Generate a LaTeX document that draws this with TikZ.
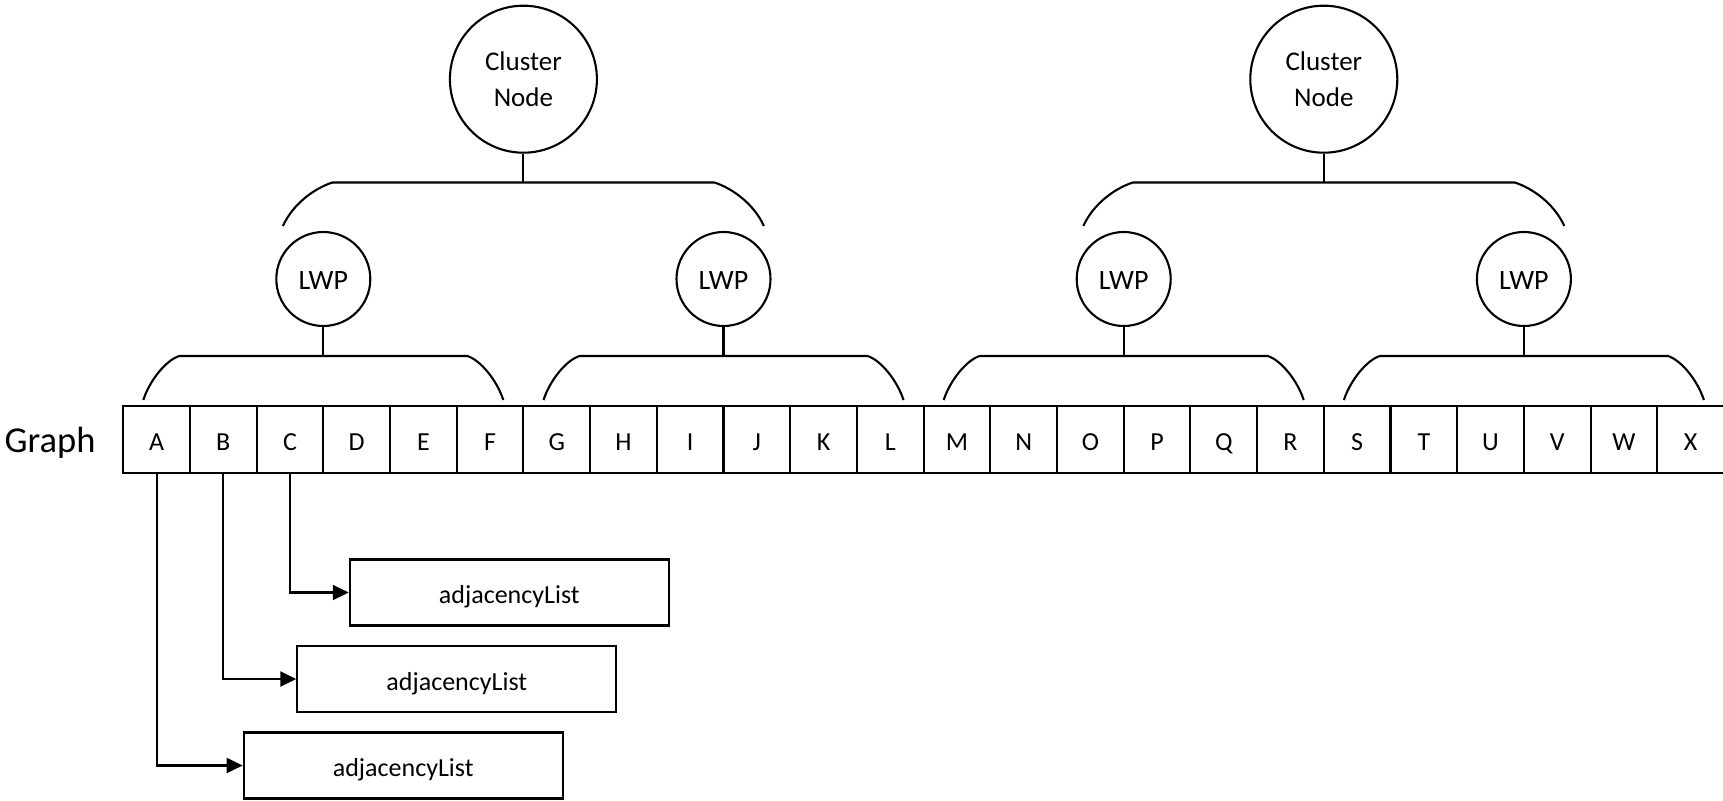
\documentclass[tikz,border=0pt]{standalone}
\usepackage{fontspec}
\setmainfont{Carlito}
\usetikzlibrary{arrows.meta}
\begin{document}
\begin{tikzpicture}[x=1pt,y=-1pt,line width=2.1pt,
  cell/.style={draw,minimum width=66.7pt,minimum height=66.5pt,inner sep=0pt,
    text height=21pt,text depth=0pt,font=\fontsize{26}{30}\selectfont},
  lwp/.style={draw,circle,minimum size=94pt,inner sep=0pt,
    text height=20.6pt,text depth=0pt,font=\fontsize{28}{32}\selectfont},
  cluster/.style={draw,circle,minimum size=147pt,inner sep=0pt,align=center,
    font=\fontsize{27}{36}\selectfont},
  listbox/.style={draw,minimum width=319pt,minimum height=66pt,inner sep=0pt,
    text height=22pt,text depth=0pt,font=\fontsize{26}{30}\selectfont},
  link/.style={-{Triangle[length=16pt,width=15pt]}}]
  \useasboundingbox (0,0) rectangle (1723,800);

  % row of graph vertices
  \node[anchor=base,font=\fontsize{36.5}{40}\selectfont] (graph) at (50,452) {Graph};
  \foreach \l [count=\i from 0] in {A,B,C,D,E,F,G,H,I,J,K,L,M,N,O,P,Q,R,S,T,U,V,W,X}
    \node[cell] (\l) at ({123.2+66.7*(\i+0.5)},439.5) {\l};

  % LWP level: one process per six vertices
  \foreach \g in {0,...,3} {
    \pgfmathsetmacro\gx{323.3+400.2*\g}
    \node[lwp] (lwp\g) at (\gx,279) {LWP};
    \coordinate (lb\g) at (\gx,356);
    \draw (\gx-180,400) .. controls (\gx-173.5,380) and (\gx-157,360) .. (\gx-144,356)
      -- (\gx+144,356) .. controls (\gx+157,360) and (\gx+173.5,380) .. (\gx+180,400);
    \draw (lwp\g) -- (lb\g);
  }

  % cluster level: one node per two LWPs
  \foreach \k in {0,1} {
    \pgfmathsetmacro\cx{523.4+800.4*\k}
    \node[cluster] (cl\k) at (\cx,79.2) {Cluster\\Node};
    \coordinate (ub\k) at (\cx,182.5);
    \draw (\cx-240.5,226) .. controls (\cx-230,203) and (\cx-208,188) .. (\cx-191,182.5)
      -- (\cx+191,182.5) .. controls (\cx+208,188) and (\cx+230,203) .. (\cx+240.5,226);
    \draw (cl\k) -- (ub\k);
  }

  % adjacency lists
  \node[listbox] (adjC) at (509.3,592.5) {adjacencyList};
  \node[listbox] (adjB) at (456.8,679) {adjacencyList};
  \node[listbox] (adjA) at (403.2,765.5) {adjacencyList};
  \draw[link] (C.south) |- (adjC.west);
  \draw[link] (B.south) |- (adjB.west);
  \draw[link] (A.south) |- (adjA.west);
\end{tikzpicture}
\end{document}
